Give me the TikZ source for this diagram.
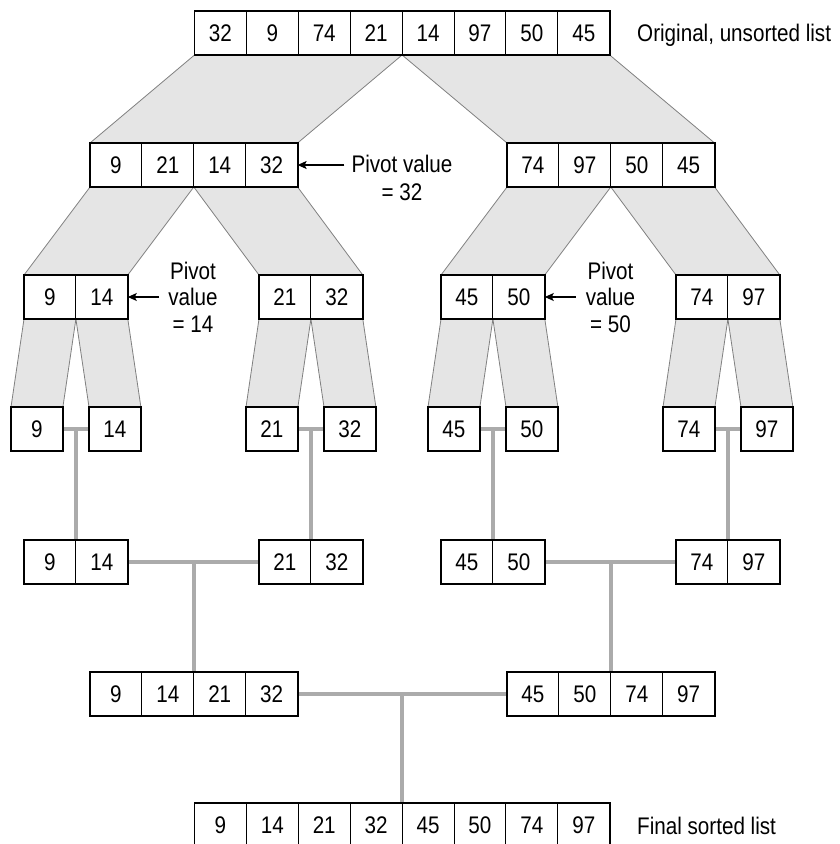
\documentclass[tikz,border=0pt]{standalone}
\usepackage{fontspec}
\setmainfont[FakeStretch=0.86]{Liberation Sans}
\usetikzlibrary{arrows.meta,fit,backgrounds,calc}
\newcommand\mklist[5]{%
  \foreach \v [count=\i] in {#5} {
    \node[cell,anchor=north west] (#1-\i) at ({#2+(\i-1)*51.9},#3) {\v};
  }
  \node[frame,fit=(#1-1)(#1-#4)] (#1) {};
}
\begin{document}
\begin{tikzpicture}[x=1pt,y=-1pt,
  cell/.style={draw=black,line width=0.9pt,fill=white,minimum width=51.9pt,minimum height=44pt,inner sep=0pt,outer sep=0pt,font=\fontsize{24}{26.5}\selectfont},
  frame/.style={draw=black,line width=1.8pt,inner sep=0pt,outer sep=0pt},
  split/.style={fill=black!10,draw=black!50,line width=0.8pt},
  merge/.style={draw=black!33,line width=4pt},
  arr/.style={-{Stealth[length=9pt,width=8pt,inset=2pt]},line width=1.2pt},
  lbl/.style={font=\fontsize{24}{26.5}\selectfont,inner sep=0pt,align=center}
]
\useasboundingbox (0,0) rectangle (839,844);

\mklist{A}{194.5}{11}{8}{32,9,74,21,14,97,50,45}
\mklist{B1}{90}{143}{4}{9,21,14,32}
\mklist{B2}{507}{143}{4}{74,97,50,45}
\mklist{C1}{24}{275}{2}{9,14}
\mklist{C2}{259}{275}{2}{21,32}
\mklist{C3}{441}{275}{2}{45,50}
\mklist{C4}{676}{275}{2}{74,97}
\mklist{D1}{11}{407}{1}{9}
\mklist{D2}{89}{407}{1}{14}
\mklist{D3}{246}{407}{1}{21}
\mklist{D4}{324}{407}{1}{32}
\mklist{D5}{428}{407}{1}{45}
\mklist{D6}{506}{407}{1}{50}
\mklist{D7}{663}{407}{1}{74}
\mklist{D8}{741}{407}{1}{97}
\mklist{E1}{24}{540}{2}{9,14}
\mklist{E2}{259}{540}{2}{21,32}
\mklist{E3}{441}{540}{2}{45,50}
\mklist{E4}{676}{540}{2}{74,97}
\mklist{F1}{90}{672}{4}{9,14,21,32}
\mklist{F2}{507}{672}{4}{45,50,74,97}
\mklist{G}{194.5}{803.3}{8}{9,14,21,32,45,50,74,97}

\begin{scope}[on background layer]
  % partitions
  \filldraw[split] (A.south west) -- (A-4.south east) -- (B1.north east) -- (B1.north west) -- cycle;
  \filldraw[split] (A-4.south east) -- (A.south east) -- (B2.north east) -- (B2.north west) -- cycle;
  \filldraw[split] (B1.south west) -- (B1-2.south east) -- (C1.north east) -- (C1.north west) -- cycle;
  \filldraw[split] (B1-2.south east) -- (B1.south east) -- (C2.north east) -- (C2.north west) -- cycle;
  \filldraw[split] (B2.south west) -- (B2-2.south east) -- (C3.north east) -- (C3.north west) -- cycle;
  \filldraw[split] (B2-2.south east) -- (B2.south east) -- (C4.north east) -- (C4.north west) -- cycle;
  \filldraw[split] (C1.south west) -- (C1-1.south east) -- (D1.north east) -- (D1.north west) -- cycle;
  \filldraw[split] (C1-1.south east) -- (C1.south east) -- (D2.north east) -- (D2.north west) -- cycle;
  \filldraw[split] (C2.south west) -- (C2-1.south east) -- (D3.north east) -- (D3.north west) -- cycle;
  \filldraw[split] (C2-1.south east) -- (C2.south east) -- (D4.north east) -- (D4.north west) -- cycle;
  \filldraw[split] (C3.south west) -- (C3-1.south east) -- (D5.north east) -- (D5.north west) -- cycle;
  \filldraw[split] (C3-1.south east) -- (C3.south east) -- (D6.north east) -- (D6.north west) -- cycle;
  \filldraw[split] (C4.south west) -- (C4-1.south east) -- (D7.north east) -- (D7.north west) -- cycle;
  \filldraw[split] (C4-1.south east) -- (C4.south east) -- (D8.north east) -- (D8.north west) -- cycle;
  % merges
  \draw[merge] (D1.east) -- (D2.west);
  \draw[merge] (E1.north) -- (E1.north |- D1.east);
  \draw[merge] (D3.east) -- (D4.west);
  \draw[merge] (E2.north) -- (E2.north |- D3.east);
  \draw[merge] (D5.east) -- (D6.west);
  \draw[merge] (E3.north) -- (E3.north |- D5.east);
  \draw[merge] (D7.east) -- (D8.west);
  \draw[merge] (E4.north) -- (E4.north |- D7.east);
  \draw[merge] (E1.east) -- (E2.west);
  \draw[merge] (F1.north) -- (F1.north |- E1.east);
  \draw[merge] (E3.east) -- (E4.west);
  \draw[merge] (F2.north) -- (F2.north |- E3.east);
  \draw[merge] (F1.east) -- (F2.west);
  \draw[merge] (G.north) -- (G.north |- F1.east);
\end{scope}

% labels
\node[lbl,anchor=base west] (Lorig) at (637,41.7) {Original, unsorted list};
\node[lbl,anchor=base west] (Lfinal) at (637,834) {Final sorted list};

\node[lbl,anchor=base] (P32a) at (402,172.7) {Pivot value};
\node[lbl,anchor=base] (P32b) at (402,200) {= 32};
\coordinate (P32s) at ([xshift=-7pt]P32a.west);
\draw[arr] (P32s |- B1.east) -- (B1.east);

\node[lbl] (P14) at (193,297) {Pivot\\value\\= 14};
\coordinate (P14s) at ([xshift=-9pt]P14.west);
\draw[arr] (P14s |- C1.east) -- (C1.east);

\node[lbl] (P50) at (610.5,297) {Pivot\\value\\= 50};
\coordinate (P50s) at ([xshift=-10pt]P50.west);
\draw[arr] (P50s |- C3.east) -- (C3.east);
\end{tikzpicture}
\end{document}
